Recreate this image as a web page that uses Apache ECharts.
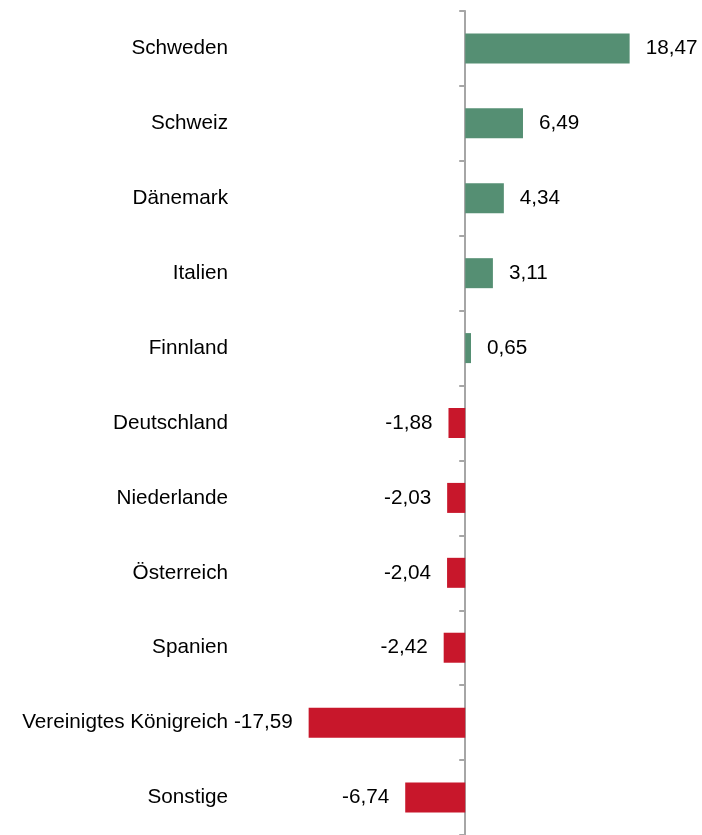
<!DOCTYPE html>
<html>
<head>
<meta charset="utf-8">
<script src="https://cdn.jsdelivr.net/npm/echarts@6/dist/echarts.min.js"></script>
<style>
  html, body { margin: 0; padding: 0; background: #fff; }
  #chart { width: 702px; height: 835px; }
</style>
</head>
<body>
<div id="chart"></div>
<script>
// Länder (von oben nach unten)
const countries = ['Schweden', 'Schweiz', 'Dänemark', 'Italien', 'Finnland', 'Deutschland',
  'Niederlande', 'Österreich', 'Spanien', 'Vereinigtes Königreich', 'Sonstige'];
const values = [18.47, 6.49, 4.34, 3.11, 0.65, -1.88, -2.03, -2.04, -2.42, -17.59, -6.74];

const colorPos = '#558f73';
const colorNeg = '#c8172b';
const fontFam = '"Liberation Sans", Arial, sans-serif';

const chart = echarts.init(document.getElementById('chart'));

const barData = values.map(v => ({
  value: v,
  itemStyle: { color: v >= 0 ? colorPos : colorNeg },
  label: { position: v >= 0 ? 'right' : 'left' }
}));

const option = {
  animation: false,
  grid: { left: 232, right: 0, top: 11, bottom: -1 },
  xAxis: {
    type: 'value',
    min: -26.2,
    max: 26.6,
    show: false,
    splitLine: { show: false }
  },
  yAxis: [{
    // achse mit strichen, auf null
    type: 'category',
    data: countries,
    inverse: true,
    axisLine: { onZero: true, lineStyle: { color: '#a6a6a6', width: 2 } },
    axisTick: { show: true, length: 6, lineStyle: { color: '#a6a6a6', width: 2 } },
    axisLabel: { show: false }
  }, {
    // nur beschriftung links
    type: 'category',
    data: countries,
    inverse: true,
    position: 'left',
    axisLine: { show: false, onZero: false },
    axisTick: { show: false },
    axisLabel: { margin: 4, color: '#000', fontSize: 20.7, fontFamily: fontFam }
  }],
  series: [{
    type: 'bar',
    yAxisIndex: 0,
    data: barData,
    barWidth: 30,
    label: {
      show: true,
      distance: 16,
      color: '#000',
      fontSize: 20.7,
      fontFamily: fontFam,
      formatter: p => p.value.toFixed(2).replace('.', ',')
    }
  }]
};
chart.setOption(option);
</script>
</body>
</html>
